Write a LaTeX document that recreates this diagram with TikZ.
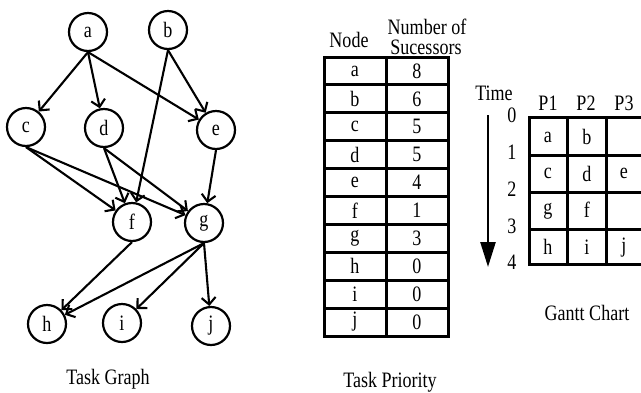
\documentclass[tikz,border=0pt]{standalone}
\usepackage{fontspec}
\setmainfont[FakeStretch=0.82]{Liberation Serif}
\usetikzlibrary{arrows.meta}
\begin{document}
\begin{tikzpicture}[x=1pt,y=-1pt,
  every node/.style={font=\fontsize{22}{24}\selectfont,inner sep=0pt},
  task/.style={circle,draw,line width=2.2pt,minimum size=38pt,inner sep=0pt},
  dep/.style={line width=2.1pt,-{Straight Barb[length=7pt,width=14pt]}},
  gridline/.style={line width=3pt},
  timearrow/.style={line width=2.5pt,-{Triangle[length=25pt,width=15pt]}}]
\useasboundingbox (0,0) rectangle (641,392);
% ---------- Task graph ----------
\node[task] (a) at (88,32) {a};
\node[task] (b) at (168,30) {b};
\node[task] (c) at (26,127) {c};
\node[task] (d) at (104,128) {d};
\node[task] (e) at (216,130) {e};
\node[task] (f) at (132,222) {f};
\node[task] (g) at (204,223) {g};
\node[task] (h) at (47,324) {h};
\node[task] (i) at (122,323) {i};
\node[task] (j) at (211,326) {j};
\draw[dep] (a.south) -- (c);
\draw[dep] (a.south) -- (d);
\draw[dep] (a.south) -- (e);
\draw[dep] (b.south) -- (f);
\draw[dep] (b.south) -- (e);
\draw[dep] (c.south) -- (f);
\draw[dep] (c.south) -- (g);
\draw[dep] (d.south) -- (f);
\draw[dep] (d.south) -- (g);
\draw[dep] (e.south) -- (g);
\draw[dep] (f.south) -- (h);
\draw[dep] (g.south) -- (h);
\draw[dep] (g.south) -- (i);
\draw[dep] (g.south) -- (j);
\node (tgl) at (108,379) {Task Graph};
% ---------- Task priority table ----------
\node (hnode) at (349,40) {Node};
\node (hnum) at (427,26.5) {Number of};
\node (hsuc) at (426,47.5) {Sucessors};
\draw[gridline] (324,57) rectangle (448,336);
\foreach \k in {1,...,9} {\draw[gridline] (324,{57+27.9*\k}) -- (448,{57+27.9*\k});}
\draw[gridline] (386,57) -- (386,336);
\foreach \n/\v [count=\k from 0] in {a/8,b/6,c/5,d/5,e/4,f/1,g/3,h/0,i/0,j/0} {
  \node (tn\n) at (355,{57+27.9*(\k+0.5)}) {\n};
  \node (tv\n) at (417,{57+27.9*(\k+0.5)}) {\v};
}
\node (tpl) at (390,382) {Task Priority};
% ---------- Gantt chart ----------
\node (time) at (494,93) {Time};
\node (p1) at (548,103) {P1};
\node (p2) at (586,103) {P2};
\node (p3) at (624,103) {P3};
\coordinate (ts) at (488,115);
\coordinate (te) at (488,267);
\draw[timearrow] (ts) -- (te);
\foreach \t/\y in {0/115,1/152,2/189,3/226,4/262} {\node (tm\t) at (512,\y) {\t};}
\draw[gridline] (641,117) -- (529,117) -- (529,264) -- (641,264);
\foreach \y in {155,192,229} {\draw[gridline] (529,\y) -- (641,\y);}
\draw[gridline] (567,117) -- (567,264);
\draw[gridline] (606,117) -- (606,264);
\node (ga) at (548,137) {a};
\node (gb) at (587,137) {b};
\node (gc) at (548,173) {c};
\node (gd) at (587,174) {d};
\node (ge) at (624,173) {e};
\node (gg) at (548,211) {g};
\node (gf) at (587,210) {f};
\node (gh) at (548,247) {h};
\node (gi) at (587,247) {i};
\node (gj) at (624,248) {j};
\node (gcl) at (587,313) {Gantt Chart};
\end{tikzpicture}
\end{document}
